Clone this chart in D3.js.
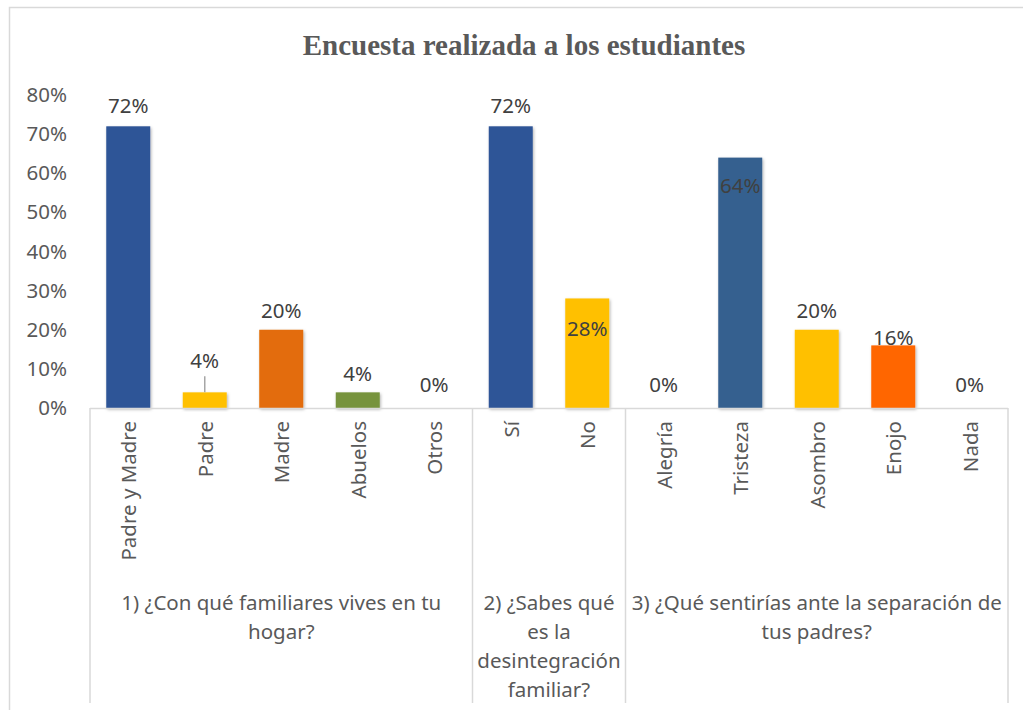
<!DOCTYPE html>
<html>
<head>
	<meta charset="utf-8">
	<title>Encuesta realizada a los estudiantes</title>
	<script src="https://d3js.org/d3.v7.min.js"></script>
	<style>
		body { margin: 0; background: #fff; }
		svg text { font-family: "Noto Sans", "Open Sans", sans-serif; }
	</style>
</head>
<body>
	<div class="chart"></div>

	<script type="text/javascript">

		// datos
		var categories = ['Padre y Madre', 'Padre', 'Madre', 'Abuelos', 'Otros', 'Sí', 'No', 'Alegría', 'Tristeza', 'Asombro', 'Enojo', 'Nada']
		var values = [0.72, 0.04, 0.20, 0.04, 0, 0.72, 0.28, 0, 0.64, 0.20, 0.16, 0]
		var groupSizes = [5, 2, 5]
		var groupLabels = [
			['1) ¿Con qué familiares vives en tu', 'hogar?'],
			['2) ¿Sabes qué', 'es la', 'desintegración', 'familiar?'],
			['3) ¿Qué sentirías ante la separación de', 'tus padres?']
		]
		var yTicks = [0, 0.1, 0.2, 0.3, 0.4, 0.5, 0.6, 0.7, 0.8]

		var barColors = ['#2F5597', '#FFC000', '#E36C09', '#77933C', '#A5A5A5', '#2F5597', '#FFC000', '#2F5597', '#36608F', '#FFC000', '#FF6600', '#2F5597']
		// desplazamiento de cada etiqueta respecto al extremo de la barra
		var labelDy = [-21, -32, -20, -19, -24, -21, 30, -24, 27, -20, -8, -24]

		var width = 1023
		var height = 710
		var plotLeft = 90, plotRight = 1008, plotTop = 95, plotBottom = 408
		var fontSize = '20.5px'

		var svg = d3.select('.chart')
			.append('svg')
			.attr('width', width)
			.attr('height', height)

		// sombra de las barras
		var defs = svg.append('defs')
		defs.append('filter')
			.attr('id', 'shadow')
			.attr('x', '-20%').attr('y', '-20%').attr('width', '140%').attr('height', '140%')
			.append('feDropShadow')
			.attr('dx', 1).attr('dy', 1.5).attr('stdDeviation', 1.6)
			.attr('flood-color', '#000').attr('flood-opacity', 0.3)

		// marco
		svg.append('path')
			.attr('d', `M9.5,${height} V7.5 H${width}`)
			.attr('fill', 'none')
			.attr('stroke', '#d9d9d9')
			.attr('stroke-width', 1.5)

		// titulo
		svg.append('text')
			.attr('x', 524)
			.attr('y', 45)
			.attr('text-anchor', 'middle')
			.attr('dominant-baseline', 'central')
			.style('font-family', '"Liberation Serif", "DejaVu Serif", serif')
			.style('font-weight', 'bold')
			.style('font-size', '29px')
			.style('fill', '#595959')
			.text('Encuesta realizada a los estudiantes')

		// escalas
		var xScale = d3.scaleBand()
			.domain(categories)
			.range([plotLeft, plotRight])
			.paddingInner(0.425)
			.paddingOuter(0.2125)
		var yScale = d3.scaleLinear().domain([0, 0.8]).range([plotBottom, plotTop])
		var step = xScale.step()

		// eje y
		var yAxis = d3.axisLeft(yScale)
			.tickValues(yTicks)
			.tickSize(0)
			.tickPadding(23)
			.tickFormat(d3.format('.0%'))
		var gy = svg.append('g')
			.attr('transform', `translate(${plotLeft}, 0)`)
			.call(yAxis)
		gy.select('.domain').remove()
		gy.selectAll('text')
			.style('font-size', fontSize)
			.style('fill', '#595959')
			.style('font-family', '"Noto Sans", sans-serif')

		// barras
		svg.append('g')
			.selectAll('rect')
			.data(values)
			.enter()
			.append('rect')
			.attr('x', (d, i) => xScale(categories[i]))
			.attr('width', xScale.bandwidth())
			.attr('y', (d) => yScale(d))
			.attr('height', (d) => plotBottom - yScale(d))
			.attr('fill', (d, i) => barColors[i])
			.attr('filter', 'url(#shadow)')
			.style('display', (d) => d > 0 ? null : 'none')

		// linea guia de la etiqueta de Padre
		svg.append('line')
			.attr('x1', xScale('Padre') + xScale.bandwidth() / 2)
			.attr('x2', xScale('Padre') + xScale.bandwidth() / 2)
			.attr('y1', yScale(values[1]) - 16)
			.attr('y2', yScale(values[1]))
			.attr('stroke', '#a6a6a6')
			.attr('stroke-width', 1.5)

		// etiquetas de datos
		svg.append('g')
			.selectAll('text')
			.data(values)
			.enter()
			.append('text')
			.attr('x', (d, i) => xScale(categories[i]) + xScale.bandwidth() / 2)
			.attr('y', (d, i) => yScale(d) + labelDy[i])
			.attr('text-anchor', 'middle')
			.attr('dominant-baseline', 'central')
			.style('font-size', fontSize)
			.style('fill', '#404040')
			.text((d) => d3.format('.0%')(d))

		// eje de categorias (multinivel)
		var axisG = svg.append('g')
		axisG.append('line')
			.attr('x1', plotLeft).attr('x2', plotRight)
			.attr('y1', plotBottom + 0.5).attr('y2', plotBottom + 0.5)
			.attr('stroke', '#d9d9d9').attr('stroke-width', 1.5)

		var bounds = [0]
		groupSizes.forEach((n) => bounds.push(bounds[bounds.length - 1] + n))
		axisG.selectAll('.sep')
			.data(bounds)
			.enter()
			.append('line')
			.attr('class', 'sep')
			.attr('x1', (d) => plotLeft + d * step)
			.attr('x2', (d) => plotLeft + d * step)
			.attr('y1', plotBottom)
			.attr('y2', 703)
			.attr('stroke', '#d9d9d9').attr('stroke-width', 1.5)

		axisG.selectAll('.cat')
			.data(categories)
			.enter()
			.append('text')
			.attr('class', 'cat')
			.attr('transform', (d) => `translate(${xScale(d) + xScale.bandwidth() / 2}, 421) rotate(-90)`)
			.attr('text-anchor', 'end')
			.attr('dominant-baseline', 'central')
			.style('font-size', fontSize)
			.style('fill', '#595959')
			.text((d) => d)

		var grp = axisG.selectAll('.grp')
			.data(groupLabels)
			.enter()
			.append('text')
			.attr('class', 'grp')
			.attr('text-anchor', 'middle')
			.style('font-size', fontSize)
			.style('fill', '#595959')
			.attr('transform', (d, i) => `translate(${plotLeft + (bounds[i] + bounds[i + 1]) / 2 * step}, 602)`)

		grp.selectAll('tspan')
			.data((d) => d)
			.enter()
			.append('tspan')
			.attr('x', 0)
			.attr('y', (d, i) => i * 29)
			.attr('dominant-baseline', 'central')
			.text((d) => d)

	</script>
</body>
</html>
